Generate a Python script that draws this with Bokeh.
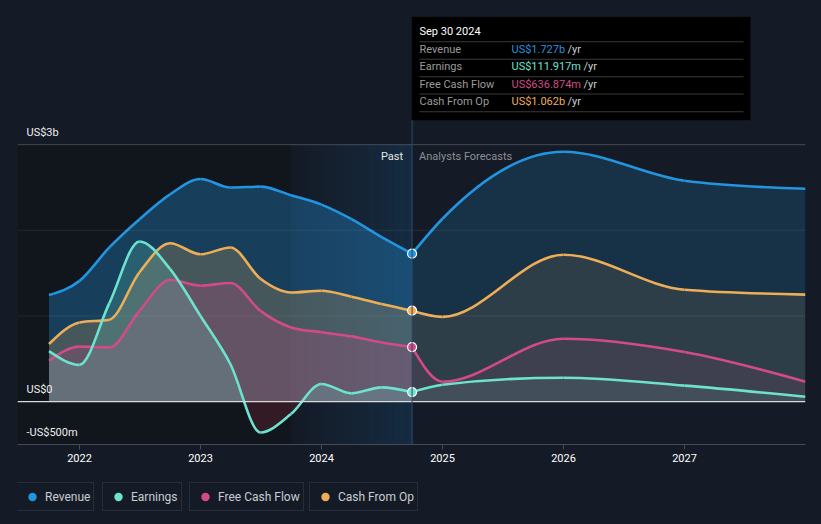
import numpy as np
import pandas as pd
from bokeh.plotting import figure
from bokeh.layouts import column
from bokeh.models import Range1d, FixedTicker, Span, BoxAnnotation, Label, Legend, LegendItem
from bokeh.embed import file_html
from bokeh.resources import INLINE

# ---------------- data (US$ billions) ----------------
PAST_DATES = ["2021-09-30", "2021-12-31", "2022-03-31", "2022-06-30", "2022-09-30",
              "2022-12-31", "2023-03-31", "2023-06-30", "2023-09-30", "2023-12-31",
              "2024-03-31", "2024-06-30", "2024-09-30"]
REVENUE_PAST = [1.245, 1.41, 1.80, 2.13, 2.42, 2.60, 2.50, 2.51, 2.41, 2.30, 2.13, 1.92, 1.727]
EARNINGS_PAST = [0.59, 0.43, 1.15, 1.87, 1.55, 1.00, 0.44, -0.36, -0.145, 0.207, 0.097, 0.167, 0.112]
FCF_PAST = [0.478, 0.642, 0.634, 1.06, 1.42, 1.354, 1.385, 1.06, 0.867, 0.81, 0.762, 0.69, 0.637]
CFO_PAST = [0.673, 0.925, 0.957, 1.51, 1.85, 1.72, 1.80, 1.435, 1.275, 1.295, 1.225, 1.14, 1.062]

FC_DATES = ["2024-09-30", "2024-12-31", "2025-12-31", "2026-12-31", "2027-12-31"]
REVENUE_FC = [1.727, 2.135, 2.917, 2.579, 2.485]
EARNINGS_FC = [0.112, 0.198, 0.28, 0.187, 0.058]
FCF_FC = [0.637, 0.233, 0.735, 0.58, 0.233]
CFO_FC = [1.062, 0.99, 1.715, 1.307, 1.25]

SERIES = ["Revenue", "Earnings", "Free Cash Flow", "Cash From Op"]
TOOLTIP_DATE = "Sep 30 2024"
TOOLTIP_VALUES = ["US$1.727b", "US$111.917m", "US$636.874m", "US$1.062b"]
YEARS = [2022, 2023, 2024, 2025, 2026, 2027]
Y_TICKS = [-0.5, 0, 3]
Y_TICK_LABELS = ["-US$500m", "US$0", "US$3b"]
GRID_LINES = [1, 2]
HIGHLIGHT_START = "2023-09-30"

# ---------------- style ----------------
BG = "#151b26"
COLORS = ["#2394df", "#6ce2cf", "#d24b88", "#eeae57"]
FONT = "Roboto"

PX_PER_YEAR = 121.0
PX_PER_B = 257.0 / 3.0
FRAME_W, FRAME_H = 788, 428
X_START = 2022 - 62 / PX_PER_YEAR
X_END = X_START + FRAME_W / PX_PER_YEAR
Y_BOTTOM = -0.5
Y_TOP = Y_BOTTOM + FRAME_H / PX_PER_B


def dec_year(s):
    t = pd.Timestamp(s)
    days = 366 if t.is_leap_year else 365
    return t.year + t.dayofyear / days


def mono_bezier(x, y):
    """Monotone cubic (d3 curveMonotoneX) segments through the data points."""
    x = np.asarray(x, float)
    y = np.asarray(y, float)
    n = len(x)
    h = np.diff(x)
    s = np.diff(y) / h
    t = np.zeros(n)
    for i in range(1, n - 1):
        p_ = (s[i - 1] * h[i] + s[i] * h[i - 1]) / (h[i - 1] + h[i])
        t[i] = (np.sign(s[i - 1]) + np.sign(s[i])) * min(abs(s[i - 1]), abs(s[i]), 0.5 * abs(p_))
    if n > 2:
        t[0] = (3 * s[0] - t[1]) / 2
        t[-1] = (3 * s[-1] - t[-2]) / 2
    else:
        t[0] = t[-1] = s[0]
    d = h / 3
    return dict(x0=x[:-1], y0=y[:-1], x1=x[1:], y1=y[1:],
                cx0=x[:-1] + d, cy0=y[:-1] + d * t[:-1],
                cx1=x[1:] - d, cy1=y[1:] - d * t[1:])


def bezier_outline(b, steps=16):
    """Outline of the drawn curve, used as the upper edge of the area fill."""
    u = np.linspace(0, 1, steps + 1)[:, None]

    def pt(a0, a1, a2, a3):
        return ((1 - u) ** 3 * a0 + 3 * (1 - u) ** 2 * u * a1 + 3 * (1 - u) * u ** 2 * a2 + u ** 3 * a3)
    xs = pt(b["x0"], b["cx0"], b["cx1"], b["x1"])
    ys = pt(b["y0"], b["cy0"], b["cy1"], b["y1"])
    xs = np.concatenate([xs[:-1].T.ravel(), [b["x1"][-1]]])
    ys = np.concatenate([ys[:-1].T.ravel(), [b["y1"][-1]]])
    return xs, ys


xp = np.array([dec_year(d) for d in PAST_DATES])
xf = np.array([dec_year(d) for d in FC_DATES])
past_vals = [REVENUE_PAST, EARNINGS_PAST, FCF_PAST, CFO_PAST]
fc_vals = [REVENUE_FC, EARNINGS_FC, FCF_FC, CFO_FC]
x_now = xp[-1]
x_hl = dec_year(HIGHLIGHT_START)

p = figure(width=821, height=470,
           x_range=Range1d(X_START, X_END), y_range=Range1d(Y_BOTTOM, Y_TOP),
           output_backend="svg", toolbar_location=None, y_axis_location=None,
           min_border_left=17, min_border_right=16, min_border_top=16, min_border_bottom=26,
           background_fill_color=BG, border_fill_color=BG, outline_line_color=None)
p.xgrid.visible = False
p.ygrid.visible = False

# background regions
p.add_layout(BoxAnnotation(right=x_hl, top=3, bottom=Y_BOTTOM, fill_color="#11151c",
                           fill_alpha=1, line_color=None, level="underlay"))
N = 30
w = (x_now - x_hl) / N
for i in range(N):
    p.add_layout(BoxAnnotation(left=x_hl + i * w, right=x_hl + (i + 1) * w + 0.001,
                               top=3, bottom=Y_BOTTOM, fill_color="#17507c",
                               fill_alpha=0.32 * (i + 0.5) / N, line_color=None, level="underlay"))

# area fills: revenue, cash from op, fcf, earnings
order = [0, 3, 2, 1]
past_alpha = {0: 0.33, 3: 0.22, 2: 0.22, 1: 0.2}
fc_alpha = {0: 0.18, 3: 0.11, 2: 0.1, 1: 0.1}
curves = {}
for k in order:
    for tag, xs, vals, al in (("p", xp, past_vals[k], past_alpha[k]), ("f", xf, fc_vals[k], fc_alpha[k])):
        b = mono_bezier(xs, vals)
        curves[(k, tag)] = b
        ox, oy = bezier_outline(b)
        p.varea(x=ox, y1=0, y2=np.maximum(oy, 0), fill_color=COLORS[k], fill_alpha=al)
        if (oy < 0).any():
            p.varea(x=ox, y1=np.minimum(oy, 0), y2=0, fill_color="#5a2430", fill_alpha=0.45)

# grid lines
for g in GRID_LINES:
    p.add_layout(Span(location=g, dimension="width", line_color="#ffffff", line_alpha=0.07, line_width=1))
p.add_layout(Span(location=3, dimension="width", line_color="#ffffff", line_alpha=0.2, line_width=1))
p.add_layout(Span(location=0, dimension="width", line_color="#d9d9d9", line_width=1.2))
p.add_layout(Span(location=x_now, dimension="height", line_color="#2d4b66", line_width=1))

# lines
for k in [3, 2, 0, 1]:
    for tag in ("p", "f"):
        b = curves[(k, tag)]
        p.bezier(x0=b["x0"], y0=b["y0"], x1=b["x1"], y1=b["y1"],
                 cx0=b["cx0"], cy0=b["cy0"], cx1=b["cx1"], cy1=b["cy1"],
                 line_color=COLORS[k], line_width=2.6)

# current markers
for k in range(4):
    p.scatter(x=[x_now], y=[past_vals[k][-1]], marker="circle", size=9,
              fill_color=COLORS[k], line_color="#ffffff", line_width=1.2)

# y labels inside the plot
for t, lab in zip(Y_TICKS, Y_TICK_LABELS):
    p.add_layout(Label(x=X_START + 9 / PX_PER_YEAR, y=t + 6 / PX_PER_B, text=lab,
                       text_font=FONT, text_font_size="11px", text_color="#eeeeee",
                       text_baseline="bottom", text_align="left"))

# past / forecast labels
y_lbl = 3 - 12 / PX_PER_B
p.add_layout(Label(x=x_now - 9 / PX_PER_YEAR, y=y_lbl, text="Past", text_font=FONT,
                   text_font_size="11px", text_color="#e6e6e6", text_align="right",
                   text_baseline="middle"))
p.add_layout(Label(x=x_now + 7 / PX_PER_YEAR, y=y_lbl, text="Analysts Forecasts", text_font=FONT,
                   text_font_size="11px", text_color="#8b8f95", text_align="left",
                   text_baseline="middle"))


# tooltip box
def px_x(px):
    return X_START + (px - 17) / PX_PER_YEAR


def px_y(py):
    return (401 - py) / PX_PER_B


p.add_layout(BoxAnnotation(left=px_x(411), right=px_x(750), top=px_y(16), bottom=px_y(119.5),
                           fill_color="#000000", fill_alpha=1, line_color=None, level="overlay"))
for sy in [41, 58.5, 76, 93.3, 111]:
    p.add_layout(BoxAnnotation(left=px_x(419), right=px_x(743), top=px_y(sy - 0.5), bottom=px_y(sy + 0.5),
                               fill_color="#3a3a3a", fill_alpha=1, line_color=None, level="overlay"))
p.add_layout(Label(x=px_x(419), y=px_y(31.3), text=TOOLTIP_DATE, text_font=FONT, text_font_size="11px",
                   text_color="#ffffff", text_baseline="middle", level="overlay"))
row_y = [49.3, 66.3, 83.5, 100.8]
yr_x = [567, 583, 583, 567]
for k in range(4):
    p.add_layout(Label(x=px_x(419), y=px_y(row_y[k]), text=SERIES[k], text_font=FONT,
                       text_font_size="11px", text_color="#9b9b9b", text_baseline="middle",
                       level="overlay"))
    p.add_layout(Label(x=px_x(511), y=px_y(row_y[k]), text=TOOLTIP_VALUES[k], text_font=FONT,
                       text_font_size="11px", text_color=COLORS[k], text_baseline="middle",
                       level="overlay"))
    p.add_layout(Label(x=px_x(yr_x[k]), y=px_y(row_y[k]), text="/yr", text_font=FONT,
                       text_font_size="11px", text_color="#cfcfcf", text_baseline="middle",
                       level="overlay"))

# x axis
ax = p.xaxis[0]
ax.ticker = FixedTicker(ticks=YEARS)
ax.major_label_overrides = {y: str(y) for y in YEARS}
ax.axis_line_color = "#454b55"
ax.major_tick_line_color = "#454b55"
ax.major_tick_in = 0
ax.major_tick_out = 5
ax.minor_tick_line_color = None
ax.major_label_text_color = "#ffffff"
ax.major_label_text_font = FONT
ax.major_label_text_font_size = "11px"
ax.major_label_standoff = 4

# legend strip (one box per series)
lf = figure(width=821, height=54, x_range=Range1d(0, 1), y_range=Range1d(0, 1),
            output_backend="svg", toolbar_location=None, x_axis_location=None, y_axis_location=None,
            min_border=0, background_fill_color=BG, border_fill_color=BG, outline_line_color=None)
lf.xgrid.visible = False
lf.ygrid.visible = False
leg_x = [-1, 85, 172, 292]
for k in range(4):
    r = lf.scatter(x=[np.nan], y=[np.nan], marker="circle", size=10,
                   fill_color=COLORS[k], line_color=None)
    lg = Legend(items=[LegendItem(label=SERIES[k], renderers=[r])], location=(leg_x[k], 13),
                orientation="horizontal", border_line_color="#3a414c", border_line_width=1,
                background_fill_color=BG, background_fill_alpha=1,
                label_text_color="#c9ccd1", label_text_font=FONT, label_text_font_size="12px",
                padding=3, spacing=0, margin=0, glyph_width=24, glyph_height=21,
                label_height=17, label_standoff=1)
    lf.add_layout(lg)

layout = column(p, lf, spacing=0)
html = file_html(layout, INLINE)
html = html.replace("<body>", '<body style="background-color:%s;">' % BG)
open("out.html", "w").write(html)
